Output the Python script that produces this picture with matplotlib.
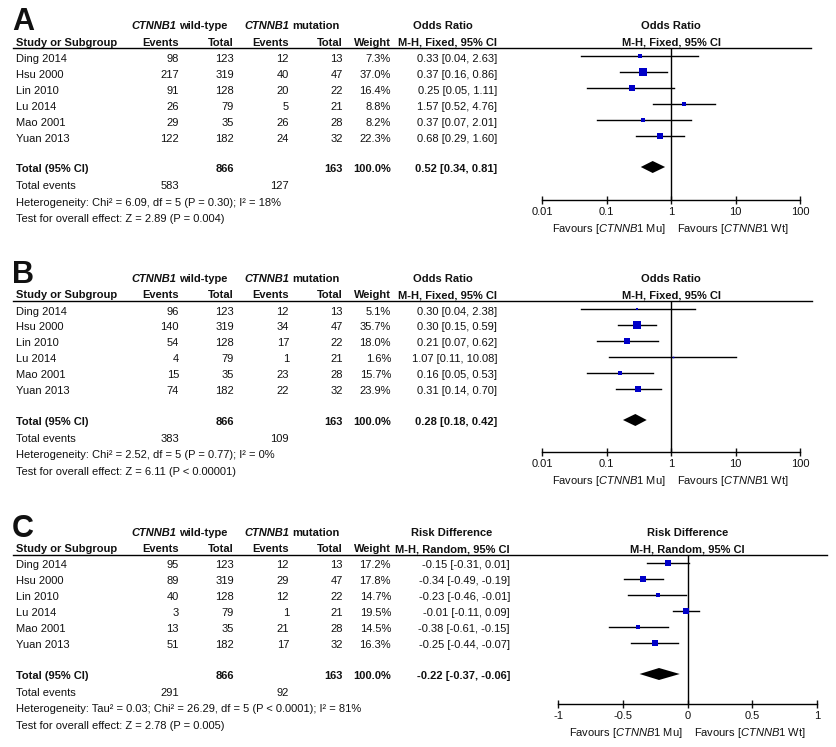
import matplotlib
matplotlib.use("Agg")
import matplotlib.pyplot as plt
from matplotlib.lines import Line2D
from matplotlib.ticker import NullLocator
from matplotlib import transforms

plt.rcParams['font.family'] = ['Liberation Sans', 'DejaVu Sans']
plt.rcParams['mathtext.fontset'] = 'custom'
plt.rcParams['mathtext.rm'] = 'Liberation Sans'
plt.rcParams['mathtext.it'] = 'Liberation Sans:italic'
plt.rcParams['mathtext.bf'] = 'Liberation Sans:bold'

# ---- data ----
studies = ["Ding 2014", "Hsu 2000", "Lin 2010", "Lu 2014", "Mao 2001", "Yuan 2013"]
wt_total = [123, 319, 128, 79, 35, 182]
mu_total = [13, 47, 22, 21, 28, 32]

a_wt_events = [98, 217, 91, 26, 29, 122]
a_mu_events = [12, 40, 20, 5, 26, 24]
a_weight = [7.3, 37.0, 16.4, 8.8, 8.2, 22.3]
a_est = [0.33, 0.37, 0.25, 1.57, 0.37, 0.68]
a_lo = [0.04, 0.16, 0.05, 0.52, 0.07, 0.29]
a_hi = [2.63, 0.86, 1.11, 4.76, 2.01, 1.60]
a_pooled = [0.52, 0.34, 0.81]
a_het = "Heterogeneity: Chi² = 6.09, df = 5 (P = 0.30); I² = 18%"
a_test = "Test for overall effect: Z = 2.89 (P = 0.004)"

b_wt_events = [96, 140, 54, 4, 15, 74]
b_mu_events = [12, 34, 17, 1, 23, 22]
b_weight = [5.1, 35.7, 18.0, 1.6, 15.7, 23.9]
b_est = [0.30, 0.30, 0.21, 1.07, 0.16, 0.31]
b_lo = [0.04, 0.15, 0.07, 0.11, 0.05, 0.14]
b_hi = [2.38, 0.59, 0.62, 10.08, 0.53, 0.70]
b_pooled = [0.28, 0.18, 0.42]
b_het = "Heterogeneity: Chi² = 2.52, df = 5 (P = 0.77); I² = 0%"
b_test = "Test for overall effect: Z = 6.11 (P < 0.00001)"

c_wt_events = [95, 89, 40, 3, 13, 51]
c_mu_events = [12, 29, 12, 1, 21, 17]
c_weight = [17.2, 17.8, 14.7, 19.5, 14.5, 16.3]
c_est = [-0.15, -0.34, -0.23, -0.01, -0.38, -0.25]
c_lo = [-0.31, -0.49, -0.46, -0.11, -0.61, -0.44]
c_hi = [0.01, -0.19, -0.01, 0.09, -0.15, -0.07]
c_pooled = [-0.22, -0.37, -0.06]
c_het = "Heterogeneity: Tau² = 0.03; Chi² = 26.29, df = 5 (P < 0.0001); I² = 81%"
c_test = "Test for overall effect: Z = 2.78 (P = 0.005)"

or_ticks = [0.01, 0.1, 1, 10, 100]
or_ticklabels = ["0.01", "0.1", "1", "10", "100"]
rd_ticks = [-1, -0.5, 0, 0.5, 1]
rd_ticklabels = ["-1", "-0.5", "0", "0.5", "1"]

# ---- layout (pixels) ----
W, H = 836, 747
INK = '#111111'
BLUE = '#0000C8'
FS = 8
HDR1, HDR2, LINE = 25, 41.5, 48
ROW0, STEP = 57.5, 16
TOTAL, TEVENTS, HET, TEST = 168, 185, 201.5, 218
COL_EV1, COL_TOT1, COL_EV2, COL_TOT2, COL_W = 179, 234, 289, 343, 391

fig = plt.figure(figsize=(W / 100, H / 100), dpi=100)


def fx(x):
    return x / W


def fy(y):
    return 1 - y / H


def txt(x, y, s, ha='left', bold=False, italic=False, size=FS, va='center_baseline'):
    fig.text(fx(x), fy(y), s, ha=ha, va=va, fontsize=size, color=INK,
             fontweight='bold' if bold else 'normal',
             fontstyle='italic' if italic else 'normal')


def draw_panel(oy, letter, wt_ev, mu_ev, weight, est, lo, hi, pooled, het, test,
               measure, method, log, ticks, ticklabels, px0, px1, line_x1, axis_rel,
               ci_right, measure_x, null):
    txt(12, oy + 30, letter, bold=True, size=22, va='baseline')
    # column headers
    txt(176, oy + HDR1, "CTNNB1", ha='right', bold=True, italic=True)
    txt(179, oy + HDR1, "wild-type", bold=True)
    txt(289, oy + HDR1, "CTNNB1", ha='right', bold=True, italic=True)
    txt(292, oy + HDR1, "mutation", bold=True)
    txt(measure_x, oy + HDR1, measure, ha='center', bold=True)
    txt(16, oy + HDR2, "Study or Subgroup", bold=True)
    for x, s in [(COL_EV1, "Events"), (COL_TOT1, "Total"), (COL_EV2, "Events"),
                 (COL_TOT2, "Total"), (COL_W, "Weight"), (ci_right, method)]:
        txt(x, oy + HDR2, s, ha='right', bold=True)
    fig.add_artist(Line2D([fx(13), fx(line_x1)], [fy(oy + LINE)] * 2, color='black', lw=1))

    # study rows
    for i, name in enumerate(studies):
        y = oy + ROW0 + i * STEP
        txt(16, y, name)
        txt(COL_EV1, y, str(wt_ev[i]), ha='right')
        txt(COL_TOT1, y, str(wt_total[i]), ha='right')
        txt(COL_EV2, y, str(mu_ev[i]), ha='right')
        txt(COL_TOT2, y, str(mu_total[i]), ha='right')
        txt(COL_W, y, f"{weight[i]:.1f}%", ha='right')
        txt(ci_right, y, f"{est[i]:.2f} [{lo[i]:.2f}, {hi[i]:.2f}]", ha='right')

    y = oy + TOTAL
    txt(16, y, "Total (95% CI)", bold=True)
    txt(COL_TOT1, y, str(sum(wt_total)), ha='right', bold=True)
    txt(COL_TOT2, y, str(sum(mu_total)), ha='right', bold=True)
    txt(COL_W, y, f"{sum(weight):.1f}%", ha='right', bold=True)
    txt(ci_right, y, f"{pooled[0]:.2f} [{pooled[1]:.2f}, {pooled[2]:.2f}]", ha='right', bold=True)
    txt(16, oy + TEVENTS, "Total events")
    txt(COL_EV1, oy + TEVENTS, str(sum(wt_ev)), ha='right')
    txt(COL_EV2, oy + TEVENTS, str(sum(mu_ev)), ha='right')
    txt(16, oy + HET, het)
    txt(16, oy + TEST, test)

    # forest plot
    ax = fig.add_axes([fx(px0), fy(oy + axis_rel), fx(px1) - fx(px0), (axis_rel - LINE) / H])
    ax.set_facecolor('none')
    if log:
        ax.set_xscale('log')
    ax.set_xlim(ticks[0], ticks[-1])
    ax.set_ylim(oy + axis_rel, oy + LINE)
    for s in ['top', 'left', 'right']:
        ax.spines[s].set_visible(False)
    ax.spines['bottom'].set_linewidth(1)
    ax.set_yticks([])
    ax.set_xticks(ticks)
    ax.set_xticklabels(ticklabels)
    ax.xaxis.set_minor_locator(NullLocator())
    ax.tick_params(axis='x', direction='inout', length=6, width=1, labelsize=FS,
                   pad=2, colors=INK)
    ax.axvline(null, color='black', lw=1)

    for i in range(len(studies)):
        y = oy + ROW0 + i * STEP - 1.5
        ax.plot([lo[i], hi[i]], [y, y], color='black', lw=1)
        side = 1.25 * weight[i] ** 0.5
        ax.plot(est[i], y, marker='s', ms=side * 0.72, mew=0, color=BLUE)

    y = oy + TOTAL - 1
    ax.fill([pooled[1], pooled[0], pooled[2], pooled[0]], [y, y - 6, y, y + 6],
            color='black', lw=0)

    trans = transforms.blended_transform_factory(ax.transData, fig.transFigure)
    ax.text(null, fy(oy + HDR1), measure, transform=trans, ha='center',
            va='center_baseline', fontsize=FS, fontweight='bold', color=INK)
    ax.text(null, fy(oy + HDR2), method, transform=trans, ha='center',
            va='center_baseline', fontsize=FS, fontweight='bold', color=INK)
    ax.annotate(r"Favours [$\mathit{CTNNB1}$ Mu]", xy=(null, 0), xycoords=('data', 'axes fraction'),
                xytext=(-5, -27), textcoords='offset pixels', ha='right',
                va='center_baseline', fontsize=FS, color=INK)
    ax.annotate(r"Favours [$\mathit{CTNNB1}$ Wt]", xy=(null, 0), xycoords=('data', 'axes fraction'),
                xytext=(6, -27), textcoords='offset pixels', ha='left',
                va='center_baseline', fontsize=FS, color=INK)


draw_panel(0, "A", a_wt_events, a_mu_events, a_weight, a_est, a_lo, a_hi, a_pooled,
           a_het, a_test, "Odds Ratio", "M-H, Fixed, 95% CI", True, or_ticks,
           or_ticklabels, 542, 800, 811, 200, 497, 443, 1)
draw_panel(253, "B", b_wt_events, b_mu_events, b_weight, b_est, b_lo, b_hi, b_pooled,
           b_het, b_test, "Odds Ratio", "M-H, Fixed, 95% CI", True, or_ticks,
           or_ticklabels, 542, 800, 812, 199, 497, 443, 1)
draw_panel(507, "C", c_wt_events, c_mu_events, c_weight, c_est, c_lo, c_hi, c_pooled,
           c_het, c_test, "Risk Difference", "M-H, Random, 95% CI", False, rd_ticks,
           rd_ticklabels, 558, 817, 827, 197, 510, 452, 0)

fig.savefig("out.png", dpi=100, facecolor='white')
